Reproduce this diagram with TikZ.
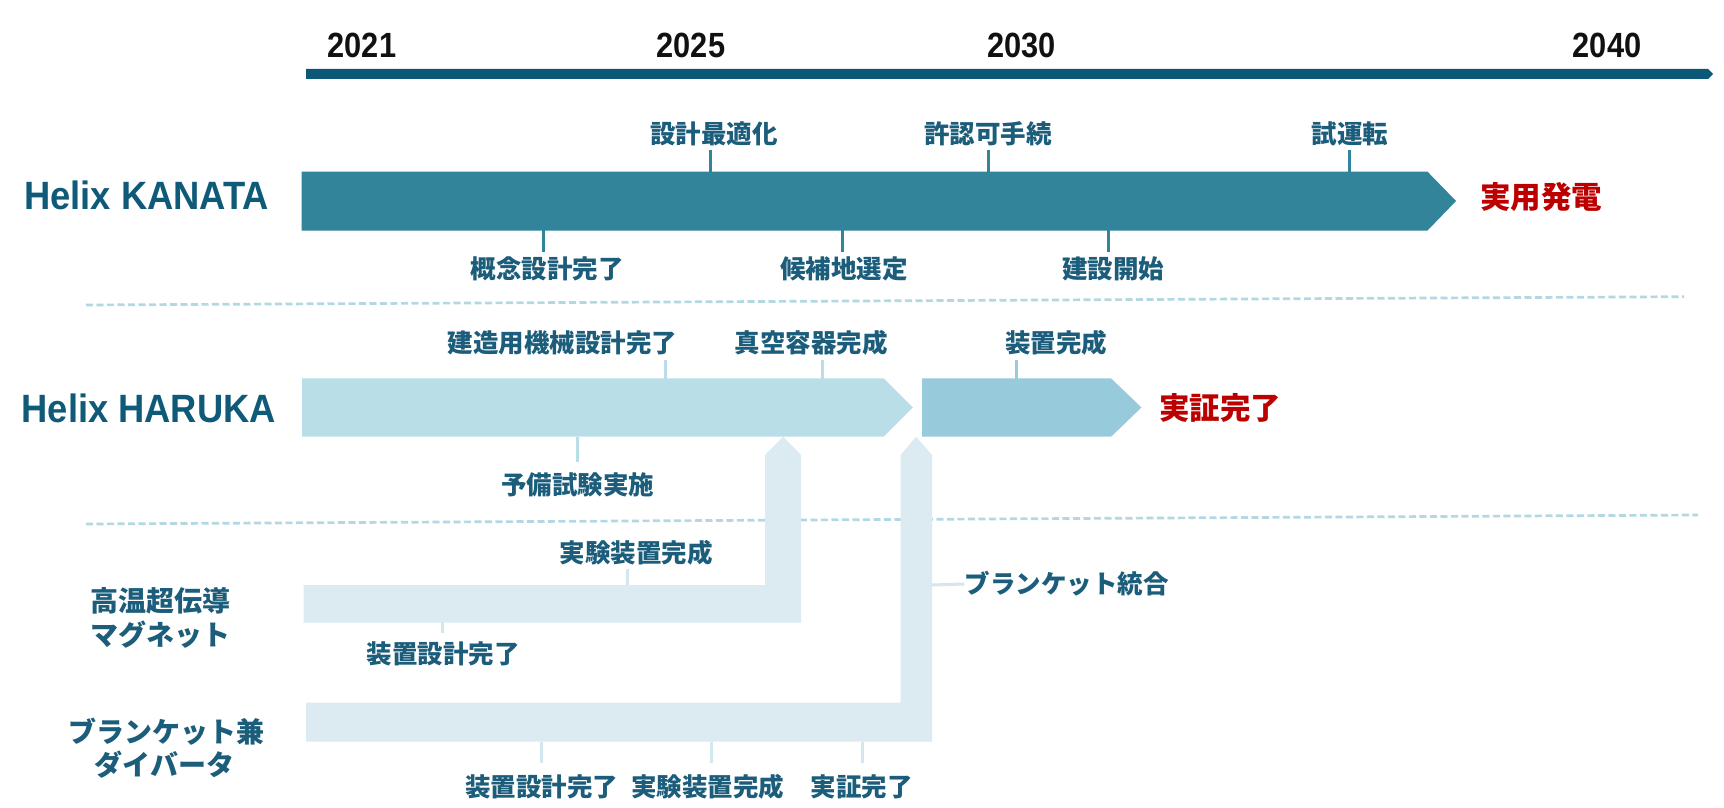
\documentclass[tikz,border=0pt]{standalone}
\usepackage{fontspec}
\newfontfamily\jpf{Noto Sans CJK JP}
\newfontfamily\latf{Liberation Sans}[FakeStretch=0.92]
\newfontfamily\yrf{Liberation Sans}[FakeStretch=0.88]
\definecolor{labc}{HTML}{1B5D7A}
\definecolor{projc}{HTML}{0F5A78}
\definecolor{yearc}{HTML}{111111}
\definecolor{goalc}{HTML}{BC0000}
\definecolor{axisc}{HTML}{0B5877}
\definecolor{kanc}{HTML}{32849A}
\definecolor{harc}{HTML}{B9DEE8}
\definecolor{har2c}{HTML}{97CBDC}
\definecolor{lowc}{HTML}{DCEBF2}
\definecolor{lowtc}{HTML}{D3E7EF}
\definecolor{sepc}{HTML}{B3D8E2}
\begin{document}
\begin{tikzpicture}[x=1pt,y=-1pt,
  lbl/.style={font=\jpf\bfseries\fontsize{25.5}{28}\selectfont, text=labc, inner sep=0pt, text height=22.4pt, text depth=3.1pt},
  side/.style={font=\jpf\bfseries\fontsize{28}{30}\selectfont, text=labc, inner sep=0pt, text height=24.6pt, text depth=3.4pt},
  goal/.style={font=\jpf\bfseries\fontsize{30.5}{32}\selectfont, text=goalc, inner sep=0pt, text height=26.8pt, text depth=3.7pt},
  year/.style={font=\yrf\bfseries\fontsize{35}{36}\selectfont, text=yearc, inner sep=0pt, text height=25pt, text depth=0pt},
  proj/.style={font=\latf\bfseries\fontsize{39.5}{40}\selectfont, text=projc, inner sep=0pt, text height=28.3pt, text depth=0pt, anchor=west},
  ktick/.style={draw=kanc, line width=3pt},
  htick/.style={draw=harc, line width=3pt},
  hhtick/.style={draw=har2c, line width=3pt},
  ltick/.style={draw=lowtc, line width=3pt},
  sepline/.style={draw=sepc, line width=2.7pt, dash pattern=on 7pt off 3.5pt},
]
\useasboundingbox (0,0) rectangle (1724,808);
\fill[white] (0,0) rectangle (1724,808);

% time axis
\fill[axisc] (306,69) -- (1708,69) -- (1713,74) -- (1708,79) -- (306,79) -- cycle;
\node[year] (y2021) at (362,45.5) {2021};
\node[year] (y2025) at (691,45.5) {2025};
\node[year] (y2030) at (1021.7,45.5) {2030};
\node[year] (y2040) at (1607,45.5) {2040};

% separators
\draw[sepline] (86,305) -- (1684,296.7);
\draw[sepline] (86,524) -- (1698,515);

% ===== Helix KANATA =====
\node[proj] (kanata) at (24,195.8) {Helix KANATA};
\fill[kanc] (301.7,171.7) -- (1427.5,171.7) -- (1456,201) -- (1427.5,230.5) -- (301.7,230.5) -- cycle;
\node[goal] (kgoal) at (1541,197) {実用発電};

\node[lbl] (k1) at (714,134.2) {設計最適化};
\draw[ktick] (710,150) -- (710,172);
\node[lbl] (k2) at (988,134.2) {許認可手続};
\draw[ktick] (988.4,150) -- (988.4,172);
\node[lbl] (k3) at (1350,134.2) {試運転};
\draw[ktick] (1349.8,150) -- (1349.8,172);

\node[lbl] (k4) at (547,269) {概念設計完了};
\draw[ktick] (543.6,230) -- (543.6,251.7);
\node[lbl] (k5) at (844,269) {候補地選定};
\draw[ktick] (842.7,230) -- (842.7,251.7);
\node[lbl] (k6) at (1113,269) {建設開始};
\draw[ktick] (1108,230) -- (1108,251.7);

% ===== Helix HARUKA =====
\node[proj] (haruka) at (21.4,408.3) {Helix HARUKA};

% lower feeding bars (drawn first, arrows touch the HARUKA bar)
\fill[lowc] (303.7,585) -- (765,585) -- (765,455) -- (783,436.7) -- (801,455) -- (801,622.5) -- (303.7,622.5) -- cycle;
\fill[lowc] (306,702.7) -- (900.5,702.7) -- (900.5,455) -- (916.2,436.7) -- (932,455) -- (932,741.7) -- (306,741.7) -- cycle;

\fill[harc] (302.2,378.3) -- (883.7,378.3) -- (912.8,407.5) -- (883.7,436.7) -- (302.2,436.7) -- cycle;
\fill[har2c] (922,378.3) -- (1111,378.3) -- (1141.5,407.5) -- (1111,436.7) -- (922,436.7) -- cycle;
\node[goal] (hgoal) at (1220,408) {実証完了};

\node[lbl] (h1) at (562.5,343) {建造用機械設計完了};
\draw[htick] (665.6,360) -- (665.6,378.5);
\node[lbl] (h2) at (811,343) {真空容器完成};
\draw[htick] (822.5,360) -- (822.5,378.5);
\node[lbl] (h3) at (1056,343) {装置完成};
\draw[hhtick] (1016,360) -- (1016,378.5);
\node[lbl] (h4) at (577.7,485) {予備試験実施};
\draw[htick] (577.6,436.5) -- (577.6,461.7);

% ===== High-temperature superconducting magnet =====
\node[side] (mag1) at (160.7,601) {高温超伝導};
\node[side] (mag2) at (160,635) {マグネット};
\node[lbl] (m1) at (636,552.5) {実験装置完成};
\draw[ltick] (627.4,569) -- (627.4,585.2);
\node[lbl] (m2) at (443,654) {装置設計完了};
\draw[ltick] (442,622.3) -- (442,633);

% ===== Blanket / divertor =====
\node[side] (bl1) at (166.5,731.5) {ブランケット兼};
\node[side] (bl2) at (164.5,765) {ダイバータ};
\node[lbl] (b0) at (1066.6,584) {ブランケット統合};
\draw[ltick] (931.8,585) -- (b0.west);
\node[lbl] (b1) at (541.7,786.7) {装置設計完了};
\draw[ltick] (541.7,741.5) -- (541.7,763);
\node[lbl] (b2) at (707.7,786.7) {実験装置完成};
\draw[ltick] (711.6,741.5) -- (711.6,763);
\node[lbl] (b3) at (861.6,786.7) {実証完了};
\draw[ltick] (862.3,741.5) -- (862.3,763);
\end{tikzpicture}
\end{document}
